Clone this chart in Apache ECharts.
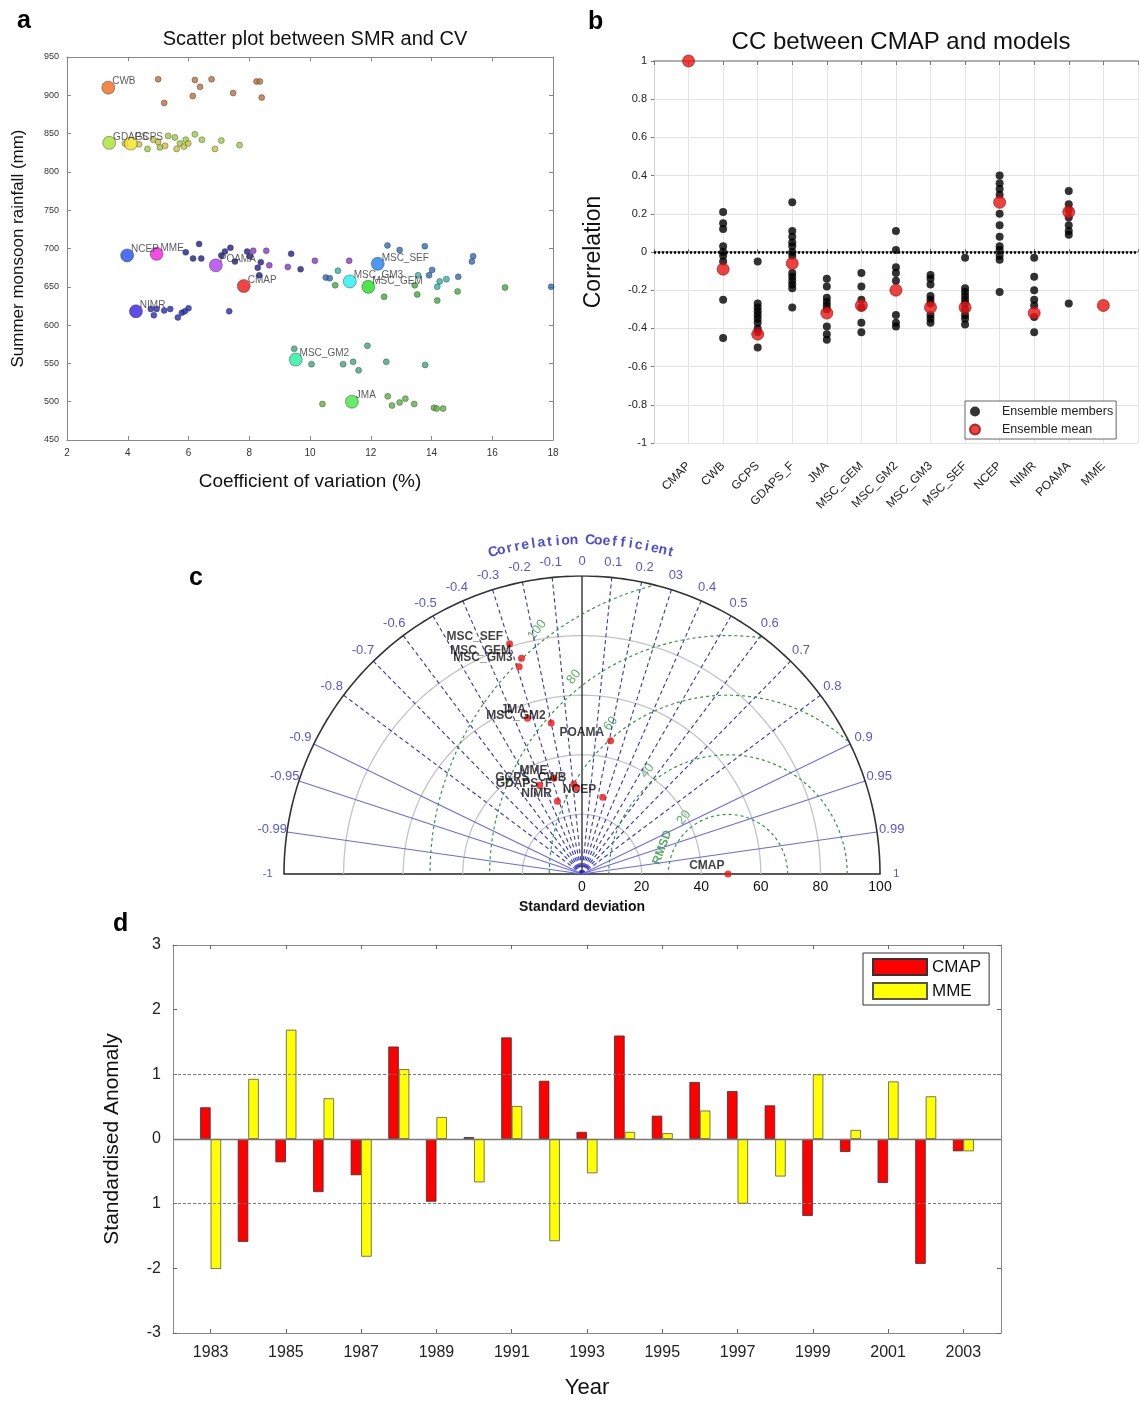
<!DOCTYPE html>
<html><head><meta charset="utf-8">
<script src="https://cdn.jsdelivr.net/npm/echarts@6/dist/echarts.min.js"></script>
<style>html,body{margin:0;padding:0;background:#fff}#chart{width:1140px;height:1401px}</style>
</head><body><div id="chart"></div>
<script>
// ================= DATA =================
// ---- Panel a: scatter SMR vs CV
const aModels  = ['CWB','GDAPS','GCPS','NCEP','MME','POAMA','CMAP','NIMR','MSC_SEF','MSC_GM3','MSC_GEM','MSC_GM2','JMA'];
const aMeanCV  = [3.36, 3.39, 4.10, 3.98, 4.95, 6.90, 7.82, 4.27, 12.23, 11.31, 11.92, 9.53, 11.38];
const aMeanSMR = [910, 838, 837, 691, 693, 678, 651, 618, 680, 657, 650, 555, 500];
const aCWB_cv = [5.0,5.2,6.21,6.38,6.14,6.76,7.47,8.24,8.35,8.41];
const aCWB_smr = [921,890,920,911,899,921,903,918,918,897];
const aGDAPS_cv = [4.65,5.06,5.33,5.55,5.72,5.91,6.21,6.44,7.08,7.68];
const aGDAPS_smr = [830,832,847,845,837,842,849,842,841,835];
const aGCPS_cv = [3.91,4.37,4.84,5.0,5.23,5.61,5.85,5.99,6.87];
const aGCPS_smr = [837,836,842,839,834,830,833,837,830];
const aNCEP_cv = [5.91,6.35,6.15,6.42,7.08,7.2,7.38,7.53,7.93,8.02,8.28,8.38,8.33,9.38,9.69];
const aNCEP_smr = [695,706,687,687,691,696,701,683,696,690,675,682,665,693,673];
const aPOAMA_cv = [8.13,8.56,8.66,9.27,10.16,11.29];
const aPOAMA_smr = [697,697,678,676,684,684];
const aNIMR_cv = [4.76,4.86,4.95,5.2,5.4,5.65,5.78,5.88,6.0,7.34];
const aNIMR_smr = [621,613,621,619,621,610,616,618,622,618];
const aMSC_SEF_cv = [12.55,12.95,13.78,15.37,15.33,14.02,13.92,14.88,17.94,10.52,10.65];
const aMSC_SEF_smr = [704,698,703,690,683,672,665,663,650,662,661];
const aMSC_GM3_cv = [10.92,13.56,14.27,14.49,14.19];
const aMSC_GM3_smr = [671,665,657,660,650];
const aMSC_GEM_cv = [10.83,12.44,13.45,13.53,14.86,14.19,16.42];
const aMSC_GEM_smr = [652,637,652,640,644,632,649];
const aMSC_GM2_cv = [9.48,10.05,11.09,11.42,11.6,11.89,12.51,13.79];
const aMSC_GM2_smr = [569,549,549,552,541,573,552,548];
const aJMA_cv = [10.41,12.56,12.7,12.95,13.14,13.43,14.08,14.17,14.38];
const aJMA_smr = [497,507,495,499,504,497,492,491,491];

// ---- Panel b: correlation with CMAP
const bCategories = ['CMAP','CWB','GCPS','GDAPS_F','JMA','MSC_GEM','MSC_GM2','MSC_GM3','MSC_SEF','NCEP','NIMR','POAMA','MME'];
const bMean = [1.0,-0.09,-0.43,-0.06,-0.32,-0.28,-0.20,-0.29,-0.29,0.26,-0.32,0.21,-0.28];
const bCWB = [0.21,0.15,0.12,0.03,0.0,-0.02,-0.05,-0.25,-0.45];
const bGCPS = [-0.05,-0.27,-0.29,-0.31,-0.33,-0.35,-0.37,-0.40,-0.42,-0.50];
const bGDAPS_F = [0.26,0.11,0.08,0.05,0.03,0.0,-0.02,-0.11,-0.13,-0.15,-0.17,-0.19,-0.29];
const bJMA = [-0.14,-0.18,-0.24,-0.26,-0.28,-0.30,-0.39,-0.43,-0.46];
const bMSC_GEM = [-0.11,-0.18,-0.25,-0.29,-0.37,-0.42];
const bMSC_GM2 = [0.11,0.01,-0.08,-0.11,-0.15,-0.33,-0.37,-0.39];
const bMSC_GM3 = [-0.12,-0.14,-0.17,-0.23,-0.25,-0.27,-0.33,-0.35,-0.37];
const bMSC_SEF = [-0.03,-0.19,-0.21,-0.23,-0.25,-0.27,-0.30,-0.33,-0.35,-0.38];
const bNCEP = [0.40,0.36,0.33,0.30,0.20,0.14,0.08,0.03,0.01,-0.02,-0.04,-0.21];
const bNIMR = [-0.03,-0.13,-0.20,-0.25,-0.28,-0.34,-0.42];
const bPOAMA = [0.32,0.25,0.22,0.18,0.14,0.11,0.09,-0.27];

// ---- Panel c: Taylor diagram
const cModels = ['CMAP','POAMA','NCEP','NIMR','MME','GCPS','CWB','GDAPS_F','JMA','MSC_GM2','MSC_SEF','MSC_GEM','MSC_GM3'];
const cCorr   = [1, 0.21, 0.26, -0.32, -0.28, -0.43, -0.09, -0.06, -0.33, -0.20, -0.30, -0.27, -0.29];
const cStd    = [49, 45.7, 26.7, 25.8, 33.5, 33, 30.3, 29, 55.4, 51.7, 81, 75.2, 72.7];
const corrTicks = [-1,-0.99,-0.95,-0.9,-0.8,-0.7,-0.6,-0.5,-0.4,-0.3,-0.2,-0.1,0,0.1,0.2,0.3,0.4,0.5,0.6,0.7,0.8,0.9,0.95,0.99,1];
const corrTickLabels = ['-1','-0.99','-0.95','-0.9','-0.8','-0.7','-0.6','-0.5','-0.4','-0.3','-0.2','-0.1','0','0.1','0.2','03','0.4','0.5','0.6','0.7','0.8','0.9','0.95','0.99','1'];
const stdRings = [20,40,60,80];
const rmsdRings = [20,40,60,80,100];

// ---- Panel d: standardised anomaly
const dYears = [1983,1984,1985,1986,1987,1988,1989,1990,1991,1992,1993,1994,1995,1996,1997,1998,1999,2000,2001,2002,2003];
const dCMAP = [0.49,-1.59,-0.36,-0.82,-0.56,1.43,-0.97,0.03,1.57,0.90,0.11,1.60,0.36,0.88,0.74,0.52,-1.19,-0.20,-0.68,-1.93,-0.19];
const dMME  = [-2.01,0.93,1.69,0.63,-1.82,1.08,0.34,-0.67,0.51,-1.58,-0.53,0.11,0.09,0.44,-1.0,-0.58,1.0,0.14,0.89,0.66,-0.19];

// ================= STYLE =================
const FONT = '"Liberation Sans", Arial, Helvetica, sans-serif';
const aMeanColor = {CWB:'#f06a1a',GDAPS:'#a6e22a',GCPS:'#f2e21e',NCEP:'#1f4ff0',MME:'#f01ee0',POAMA:'#b03cf0',CMAP:'#f01414',NIMR:'#3a1ee6',MSC_SEF:'#1e7ff0',MSC_GM3:'#22f0f0',MSC_GEM:'#1ee01e',MSC_GM2:'#22f0a0',JMA:'#3ee83e'};
const aMemberColor = {CWB:'#b8703c',GDAPS:'#9ccc3c',GCPS:'#c8c23a',NCEP:'#1e1e8c',POAMA:'#8a34c8',NIMR:'#2828b4',MSC_SEF:'#2f6cb0',MSC_GM3:'#2eb4a0',MSC_GEM:'#3cae3c',MSC_GM2:'#3ca680',JMA:'#5cb040'};
const cLabelOffset = {CMAP:[5,-8],POAMA:[2,-8],NCEP:[2,-7],NIMR:[3,-7],MME:[2,-7],GCPS:[-2,-8],CWB:[1,-6],GDAPS_F:[-16,-4],JMA:[7,-8],MSC_GM2:[3,-7],MSC_SEF:[2,-7],MSC_GEM:[-2,-8],MSC_GM3:[2,-9]};

// ================= BUILD =================
const aMemberSets = [
  ['CWB',aCWB_cv,aCWB_smr],['GDAPS',aGDAPS_cv,aGDAPS_smr],['GCPS',aGCPS_cv,aGCPS_smr],
  ['NCEP',aNCEP_cv,aNCEP_smr],['POAMA',aPOAMA_cv,aPOAMA_smr],['NIMR',aNIMR_cv,aNIMR_smr],
  ['MSC_SEF',aMSC_SEF_cv,aMSC_SEF_smr],['MSC_GM3',aMSC_GM3_cv,aMSC_GM3_smr],['MSC_GEM',aMSC_GEM_cv,aMSC_GEM_smr],
  ['MSC_GM2',aMSC_GM2_cv,aMSC_GM2_smr],['JMA',aJMA_cv,aJMA_smr]
];
const bMemberSets = [
  ['CWB',bCWB],['GCPS',bGCPS],['GDAPS_F',bGDAPS_F],['JMA',bJMA],['MSC_GEM',bMSC_GEM],['MSC_GM2',bMSC_GM2],
  ['MSC_GM3',bMSC_GM3],['MSC_SEF',bMSC_SEF],['NCEP',bNCEP],['NIMR',bNIMR],['POAMA',bPOAMA]
];

function tpt(std, corr){ return [std*corr, std*Math.sqrt(Math.max(0,1-corr*corr))]; }
function arcPts(cx, r, keep){
  const pts=[];
  for(let a=0;a<=180;a+=1){
    const t=a*Math.PI/180, x=cx+r*Math.cos(t), y=r*Math.sin(t);
    if(!keep || keep(x,y)) pts.push([x,y]);
  }
  return pts;
}

const series = [];

// Panel a
aMemberSets.forEach(([name,cv,smr])=>{
  series.push({type:'scatter', name:'a_'+name, xAxisIndex:0, yAxisIndex:0, symbolSize:6,
    itemStyle:{color:aMemberColor[name], borderColor:'rgba(40,40,40,0.75)', borderWidth:0.6},
    data: cv.map((v,i)=>[v, smr[i]])});
});
series.push({type:'scatter', name:'a_means', xAxisIndex:0, yAxisIndex:0, symbolSize:13, z:5,
  data: aModels.map((m,i)=>({value:[aMeanCV[i],aMeanSMR[i]], name:m,
    itemStyle:{color:aMeanColor[m], borderColor:'rgba(30,30,30,0.6)', borderWidth:0.8}})),
  label:{show:true, formatter:'{b}', position:'right', offset:[-8,-6], fontSize:10, color:'#333', fontFamily:FONT}
});

// Panel b
const bMembersData = [];
bMemberSets.forEach(([cat,vals])=>vals.forEach(v=>bMembersData.push([cat,v])));
series.push({type:'scatter', name:'Ensemble members', xAxisIndex:2, yAxisIndex:2, symbolSize:8,
  itemStyle:{color:'#000'}, data:bMembersData,
  markLine:{silent:true, symbol:'none', label:{show:false}, data:[{yAxis:0}], lineStyle:{color:'#000', type:[2,2], width:2.5}}
});
series.push({type:'scatter', name:'Ensemble mean', xAxisIndex:2, yAxisIndex:2, symbolSize:12, z:5,
  itemStyle:{color:'#ee1111', borderColor:'#8a1010', borderWidth:0.8},
  data: bCategories.map((c,i)=>[c,bMean[i]])
});

// Panel c (Taylor diagram on an equal-scaled cartesian grid)
const cx = {xAxisIndex:4, yAxisIndex:3};
stdRings.forEach(r=>series.push(Object.assign({type:'line', showSymbol:false, symbol:'none', silent:true, data:arcPts(0,r),
  lineStyle:{color:'#c4c4c4', width:1.3}}, cx)));
corrTicks.filter(c=>Math.abs(c)<1).forEach(c=>{
  let ls;
  if(c===0) ls={color:'#222', width:1.3};
  else if(Math.abs(c)>=0.9) ls={color:'#6a6ae8', width:1.1};
  else ls={color:'#3434c4', width:1.1, type:[4,3]};
  series.push(Object.assign({type:'line', showSymbol:false, symbol:'none', silent:true, data:[[0,0],tpt(100,c)], lineStyle:ls}, cx));
});
const refStd = cStd[0];
rmsdRings.forEach(r=>series.push(Object.assign({type:'line', showSymbol:false, symbol:'none', silent:true,
  data:arcPts(refStd, r, (x,y)=>x*x+y*y<=100*100+1), lineStyle:{color:'#2f9a3a', width:1.2, type:[3,3]}}, cx)));
series.push(Object.assign({type:'line', showSymbol:false, symbol:'none', silent:true, data:arcPts(0,100),
  lineStyle:{color:'#333', width:1.6}}, cx));
// correlation tick labels
series.push(Object.assign({type:'scatter', silent:true, clip:false, symbolSize:0,
  data: corrTicks.map((c,i)=>({value:tpt(Math.abs(c)===1?105.5:105,c), label:{formatter:corrTickLabels[i],
    fontSize:Math.abs(c)===1?11:13}})),
  label:{show:true, position:'inside', color:'#2a2ad0', fontSize:13, fontFamily:FONT}}, cx));
// curved "Correlation Coefficient"
const ccText = 'Correlation Coefficient';
const ccSpan = 15.4;
series.push(Object.assign({type:'scatter', silent:true, clip:false, symbolSize:0,
  data: ccText.split('').map((ch,i)=>{
    const phi = ccSpan - i*(2*ccSpan/(ccText.length-1));
    const t = phi*Math.PI/180;
    return {value:[-112*Math.sin(t), 112*Math.cos(t)], label:{formatter:ch===' '?'':ch, rotate:phi}};
  }),
  label:{show:true, position:'inside', color:'#2020c8', fontSize:14, fontWeight:'bold', fontFamily:FONT}}, cx));
// RMSD labels
series.push(Object.assign({type:'scatter', silent:true, clip:false, symbolSize:0,
  data: rmsdRings.map(r=>{const t=128*Math.PI/180; return {value:[refStd+(r+4)*Math.cos(t),(r+4)*Math.sin(t)], label:{formatter:String(r)}};})
    .concat([{value:[refStd+23.8*Math.cos(158*Math.PI/180), 23.8*Math.sin(158*Math.PI/180)], label:{formatter:'RMSD', rotate:70, fontWeight:'bold', fontSize:12}}]),
  label:{show:true, position:'inside', color:'#2e9a3a', fontSize:13, rotate:52, fontFamily:FONT}}, cx));
// model points
series.push(Object.assign({type:'scatter', silent:true, clip:false, symbolSize:7, z:6,
  itemStyle:{color:'#ee1111'},
  data: cModels.map((m,i)=>({value:tpt(cStd[i],cCorr[i]), name:m, label:{offset:cLabelOffset[m]||[0,-6]}})),
  label:{show:true, formatter:'{b}', position:'left', color:'#111', fontSize:12, fontWeight:'bold', fontFamily:FONT}}, cx));

// Panel d
const dCats = [String(dYears[0]-1)].concat(dYears.map(String), [String(dYears[dYears.length-1]+1)]);
const pad = arr => ['-'].concat(arr, ['-']);
series.push({type:'bar', name:'CMAP', xAxisIndex:5, yAxisIndex:4, barWidth:10.5, barGap:'0%', data:pad(dCMAP),
  itemStyle:{color:'#ff0000', borderColor:'#333', borderWidth:0.8},
  markLine:{silent:true, symbol:'none', label:{show:false}, data:[
    {yAxis:1, lineStyle:{color:'#777', type:[3,2], width:1}},
    {yAxis:-1, lineStyle:{color:'#777', type:[3,2], width:1}},
    {yAxis:0, lineStyle:{color:'#777', type:'solid', width:1.3}}]}
});
series.push({type:'bar', name:'MME', xAxisIndex:5, yAxisIndex:4, barWidth:10.5, barGap:'0%', data:pad(dMME),
  itemStyle:{color:'#ffff00', borderColor:'#555', borderWidth:0.8}});

const oddYear = (i,v)=>Number(v)%2===1;
const axisLbl = (sz,c)=>({fontSize:sz, color:c||'#222', fontFamily:FONT});

const option = {
  animation:false,
  backgroundColor:'#fff',
  textStyle:{fontFamily:FONT},
  title:[
    {text:'a', left:12, top:4, textStyle:{fontSize:25, fontWeight:'bold', color:'#000', fontFamily:FONT}},
    {text:'Scatter plot between SMR and CV', left:310, top:24, textAlign:'center', textStyle:{fontSize:20, fontWeight:'normal', color:'#111', fontFamily:FONT}},
    {text:'b', left:583, top:5, textStyle:{fontSize:25, fontWeight:'bold', color:'#000', fontFamily:FONT}},
    {text:'CC between CMAP and models', left:896, top:25, textAlign:'center', textStyle:{fontSize:24, fontWeight:'normal', color:'#111', fontFamily:FONT}},
    {text:'c', left:184, top:561, textStyle:{fontSize:25, fontWeight:'bold', color:'#000', fontFamily:FONT}},
    {text:'d', left:108, top:907, textStyle:{fontSize:25, fontWeight:'bold', color:'#000', fontFamily:FONT}}
  ],
  legend:[
    {data:['Ensemble members','Ensemble mean'], left:965, top:401, orient:'vertical', icon:'circle',
      itemWidth:44, itemHeight:10, itemGap:5, padding:[4,3,3,4], borderColor:'#666', borderWidth:1, backgroundColor:'#fff',
      textStyle:{fontSize:12.5, color:'#222', fontFamily:FONT}, selectedMode:false},
    {data:['CMAP','MME'], left:863, top:953, orient:'vertical', icon:'rect',
      itemWidth:54, itemHeight:16, itemGap:6, padding:[5,8,5,9], borderColor:'#333', borderWidth:1, backgroundColor:'#fff',
      textStyle:{fontSize:17, color:'#111', fontFamily:FONT}, selectedMode:false}
  ],
  grid:[
    {left:67, top:57, width:486, height:383},
    {left:654, top:61, width:486, height:382},
    {left:284, top:576, width:596, height:298},
    {left:173, top:945, width:828, height:388}
  ],
  xAxis:[
    {gridIndex:0, type:'value', min:2, max:18, interval:2, axisLine:{lineStyle:{color:'#888'}},
      axisTick:{inside:true, length:4, lineStyle:{color:'#888'}}, axisLabel:axisLbl(10,'#333'), splitLine:{show:false},
      name:'Coefficient of variation (%)', nameLocation:'middle', nameGap:32, nameTextStyle:{fontSize:19, color:'#111', fontFamily:FONT}},
    {gridIndex:0, type:'value', position:'top', min:2, max:18, interval:2, axisLine:{lineStyle:{color:'#888'}},
      axisTick:{inside:true, length:4, lineStyle:{color:'#888'}}, axisLabel:{show:false}, splitLine:{show:false}},
    {gridIndex:1, type:'category', data:[''].concat(bCategories,['']), boundaryGap:false,
      axisLine:{lineStyle:{color:'#9a9a9a', width:1.6}}, axisTick:{show:true, inside:true, length:3, interval:0, lineStyle:{color:'#777'}},
      axisLabel:Object.assign({rotate:45, interval:0, margin:21}, axisLbl(12,'#222')),
      splitLine:{show:true, interval:0, lineStyle:{color:'#e4e4e4'}}},
    {gridIndex:1, type:'category', position:'top', data:[''].concat(bCategories,['']), boundaryGap:false,
      axisLine:{lineStyle:{color:'#9a9a9a', width:1.6}}, axisTick:{show:true, inside:true, length:4, interval:0, lineStyle:{color:'#777'}},
      axisLabel:{show:false}, splitLine:{show:false}},
    {gridIndex:2, type:'value', min:-100, max:100, interval:20, axisLine:{lineStyle:{color:'#222', width:1.6}},
      axisTick:{show:false}, axisLabel:Object.assign({formatter:v=>v>=0?String(v):'', margin:6}, axisLbl(14,'#111')), splitLine:{show:false},
      name:'Standard deviation', nameLocation:'middle', nameGap:26, nameTextStyle:{fontSize:14, fontWeight:'bold', color:'#111', fontFamily:FONT}},
    {gridIndex:3, type:'category', data:dCats, boundaryGap:false, axisLine:{onZero:false, lineStyle:{color:'#888'}},
      axisTick:{inside:true, length:4, interval:oddYear, lineStyle:{color:'#666'}},
      axisLabel:Object.assign({interval:oddYear, margin:12}, axisLbl(16,'#222')), splitLine:{show:false},
      name:'Year', nameLocation:'middle', nameGap:44, nameTextStyle:{fontSize:22, color:'#111', fontFamily:FONT}},
    {gridIndex:3, type:'category', position:'top', data:dCats, boundaryGap:false, axisLine:{onZero:false, lineStyle:{color:'#888'}},
      axisTick:{inside:true, length:4, interval:oddYear, lineStyle:{color:'#666'}}, axisLabel:{show:false}, splitLine:{show:false}}
  ],
  yAxis:[
    {gridIndex:0, type:'value', min:450, max:950, interval:50, axisLine:{show:true, lineStyle:{color:'#888'}},
      axisTick:{show:true, inside:true, length:4, lineStyle:{color:'#888'}}, axisLabel:axisLbl(9,'#333'), splitLine:{show:false},
      name:'Summer monsoon rainfall (mm)', nameLocation:'middle', nameGap:40, nameTextStyle:{fontSize:17, color:'#111', fontFamily:FONT}},
    {gridIndex:0, type:'value', position:'right', min:450, max:950, interval:50, axisLine:{show:true, lineStyle:{color:'#888'}},
      axisTick:{show:true, inside:true, length:4, lineStyle:{color:'#888'}}, axisLabel:{show:false}, splitLine:{show:false}},
    {gridIndex:1, type:'value', min:-1, max:1, interval:0.2, axisLine:{show:true, lineStyle:{color:'#d0d0d0'}},
      axisTick:{show:true, length:3, lineStyle:{color:'#777'}},
      axisLabel:Object.assign({formatter:v=>String(Math.round(v*10)/10), margin:7}, axisLbl(11,'#222')),
      splitLine:{show:true, lineStyle:{color:'#e4e4e4'}},
      name:'Correlation', nameLocation:'middle', nameGap:49, nameTextStyle:{fontSize:23, color:'#111', fontFamily:FONT}},
    {gridIndex:2, type:'value', min:0, max:100, show:false},
    {gridIndex:3, type:'value', min:-3, max:3, interval:1, axisLine:{show:true, lineStyle:{color:'#888'}},
      axisTick:{show:true, inside:true, length:4, lineStyle:{color:'#666'}},
      axisLabel:Object.assign({formatter:v=>v===-1?'1':String(v), margin:12}, axisLbl(16,'#222')), splitLine:{show:false},
      name:'Standardised Anomaly', nameLocation:'middle', nameGap:50, nameTextStyle:{fontSize:21, color:'#111', fontFamily:FONT}},
    {gridIndex:3, type:'value', position:'right', min:-3, max:3, interval:1, axisLine:{show:true, lineStyle:{color:'#888'}},
      axisTick:{show:true, inside:true, length:4, lineStyle:{color:'#666'}}, axisLabel:{show:false}, splitLine:{show:false}}
  ],
  series: series
};

const chart = echarts.init(document.getElementById('chart'), null, {renderer:'canvas'});
chart.setOption(option);
</script>
</body></html>
